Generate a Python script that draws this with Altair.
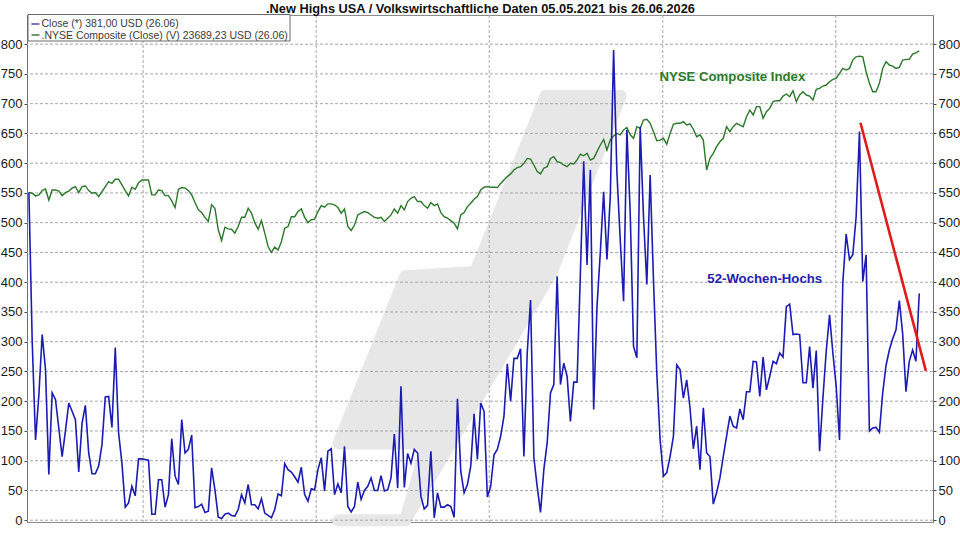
import altair as alt
import pandas as pd

TITLE = ".New Highs USA / Volkswirtschaftliche Daten 05.05.2021 bis 26.06.2026"
START, END = "2021-05-05", "2026-06-26"

# 52-week highs (weekly)
new_highs = [
    551, 300, 135, 210, 312, 253, 77, 214, 203, 155, 107, 150, 197, 183, 169, 81, 163, 193, 113, 78,
    78, 91, 127, 207, 208, 156, 290, 147, 96, 22, 29, 57, 41, 103, 103, 102, 101, 10, 10, 68,
    68, 22, 43, 137, 74, 60, 169, 113, 119, 143, 21, 23, 27, 13, 15, 88, 51, 5, 3, 10,
    12, 8, 7, 18, 43, 29, 60, 26, 26, 19, 36, 12, 8, 4, 18, 44, 41, 95, 85, 81,
    73, 64, 89, 43, 32, 53, 51, 85, 105, 49, 116, 120, 43, 61, 46, 124, 23,
    14, 23, 64, 35, 50, 57, 71, 50, 50, 75, 49, 51, 71, 145, 54, 225, 55, 112, 96, 119,
    113, 40, 19, 25, 116, 4, 46, 22, 22, 26, 23, 5, 204, 82, 46, 60, 91, 179, 102, 197,
    183, 39, 57, 110, 119, 141, 175, 263, 200, 272, 272, 288, 107, 281, 370, 105, 57, 13,
    85, 130, 214, 228, 410, 228, 264, 242, 166, 232, 232, 415, 603, 429, 589, 186, 359, 450, 552, 438,
    544, 790, 583, 471, 368, 656, 516, 292, 273, 661, 510, 396, 580, 404, 247, 135, 74, 80,
    107, 141, 261, 253, 205, 236, 189, 120, 158, 85, 189, 113, 107, 27, 46, 71, 107, 141, 175, 158,
    155, 187, 169, 216, 216, 267, 266, 208, 274, 219, 242, 267, 263, 281, 274, 359, 363, 312, 313, 312,
    231, 231, 292, 222, 285, 116, 205, 284, 345, 281, 225, 135,
    400, 481, 438, 446, 510, 653, 401, 446, 150, 155, 156, 148, 214, 260, 286, 305, 320, 369, 314, 216,
    267, 286, 267, 381,
]

# NYSE Composite (scaled onto the same axis, as drawn)
nyse = [
    551, 549.5, 545, 546.7, 554, 556.7, 538, 555, 555, 553, 545.5, 550.5, 553, 558, 560.6, 550.5, 560.6, 561.7, 554, 549.5,
    550.5, 543.8, 552, 560.6, 569, 566, 573, 573, 563.5, 554, 545, 559.6, 556, 567, 571.8, 571.8, 571.8, 546.7, 546.7, 555,
    554, 545.5, 545.5, 536.6, 525.4, 556, 559, 558, 554, 546.7, 533.8, 521.5, 517, 509, 502, 530, 524, 488,
    470, 492.4, 489.6, 489, 482.4, 493.5, 509, 509, 524.3, 516, 500, 489, 503.5, 482.4, 460, 450, 459, 454, 468, 490.7,
    493.5, 510, 510, 518.7, 523, 509, 500, 505, 506, 518.7, 528.7, 526, 531.6, 531.6, 530, 525.4, 516, 523, 493.5,
    486.8, 496, 513, 516, 518.7, 517, 513, 509, 507.5, 509, 502, 507.5, 513, 523, 516, 528.7, 521.5, 535.5, 541, 543.8,
    535.5, 535.5, 528.7, 524.3, 533.8, 528.7, 531.6, 517, 510, 507.5, 503.5, 499, 489.6, 513, 517, 527, 532.7, 539.4, 543.8, 555,
    559.5, 560.6, 559.5, 559.5, 559, 566, 571.8, 577.4, 582, 588.6, 592.5, 594, 599.8, 608, 607, 597, 585.8, 582, 591.5, 594,
    608, 611, 602.6, 601, 597, 594, 599.8, 598.7, 605.4, 615, 612.4, 616.6, 605.4, 608, 619.4, 630.6, 640, 622, 639, 645.7,
    650, 647.7, 655.8, 660, 647.7, 641.8, 661.3, 658.6, 672.5, 673.6, 667, 653, 637.8,
    638.8, 641.8, 631.7, 650, 665.3, 667, 667, 669.7, 664.1, 666, 657, 644.5, 647.7, 638.8, 588.6, 608, 616.6, 627.7, 636, 641.8,
    661.3, 653, 661.3, 667, 664.1, 661.3, 678, 689.3, 681, 695, 695, 675.4, 686.5, 692, 703.3, 705, 705, 712.8, 716.2, 711.7,
    721.7, 703.3, 714.5, 720, 714.5, 712.8, 706, 724, 725.7, 729.6, 731.3, 736.8, 740.8, 742.5, 750.9, 759.3, 756.5, 759.3, 773.3, 778.8,
    779.9, 778.8, 753.6, 734.1, 720, 720, 734.1, 759.3, 770.4, 764.9, 763.2, 759.3, 761, 773.3, 774.4, 774.4, 783.3, 785.5, 788.9,
]

years = [2022, 2023, 2024, 2025, 2026]
y_ticks = list(range(0, 801, 50))

trend_dates = ["2026-02-22", "2026-07-10"]
trend_values = [668, 251]

note_texts = ["NYSE Composite Index", "52-Wochen-Hochs"]
note_dates = ["2024-12-25", "2025-04-05"]
note_values = [745, 406]
note_colors = ["#2a7a2a", "#2323b0"]

legend_texts = ["Close (*) 381,00 USD (26.06)",
                ".NYSE Composite (Close) (V) 23689,23 USD (26.06)"]

# decorative background logo (two slanted bars), in data units
logo_part = ["upper", "upper", "lower", "lower"]
logo_value = [713, 417, 410, 129]
logo_left = ["2024-04-29", "2023-12-03", "2023-07-08", "2023-02-17"]
logo_right = ["2024-10-04", "2024-05-12", "2024-01-10", "2023-08-05"]

BLUE = "#1c1cb2"
GREEN = "#2b782b"
RED = "#e01b1b"
FONT = "Liberation Sans"

dates = pd.date_range(START, END, periods=len(new_highs))
df = pd.DataFrame({
    "date": [d.strftime("%Y-%m-%dT%H:%M:%SZ") for d in dates],
    "highs": new_highs,
    "nyse": nyse,
})

X = alt.Scale(type="utc", domain=[alt.DateTime(year=2021, month=5, date=1, utc=True),
                                  alt.DateTime(year=2026, month=7, date=25, utc=True)])
Y = alt.Scale(domain=[-3, 849], nice=False, zero=False)

x_axis = alt.Axis(values=[alt.DateTime(year=y, month=1, date=1, utc=True) for y in years],
                  format="%Y", labelAlign="left", labelBaseline="top", tickSize=3, labelPadding=2,
                  domainColor="#6f6f6f", tickColor="#6f6f6f", labelFont=FONT, labelFontSize=13,
                  labelColor="#1a1a1a", title=None, grid=False, labelFlush=False, labelOverlap=False)


def y_axis(orient):
    return alt.Axis(values=y_ticks, format="d", orient=orient, tickSize=3, labelPadding=2,
                    domainColor="#6f6f6f", tickColor="#4a4a4a", labelFont=FONT, labelFontSize=13,
                    labelColor="#1a1a1a", title=None, grid=False, labelFlush=False, labelOverlap=False)


one = pd.DataFrame({"k": [0]})

logo = alt.Chart(pd.DataFrame({"part": logo_part, "value": logo_value,
                               "left": logo_left, "right": logo_right})).mark_area(
    orient="horizontal", fill="#e7e7e7", stroke="#e7e7e7", strokeWidth=12, strokeJoin="round"
).encode(
    y=alt.Y("value:Q", scale=Y, axis=None),
    x=alt.X("left:T", scale=X, axis=None),
    x2="right:T",
    detail="part:N",
)

grid_h = alt.Chart(pd.DataFrame({"v": y_ticks})).mark_rule(
    color="#a8a8a8", strokeDash=[3, 2], strokeWidth=1
).encode(y=alt.Y("v:Q", scale=Y, axis=None))

grid_v = alt.Chart(pd.DataFrame({"d": [f"{y}-01-01" for y in years]})).mark_rule(
    color="#a8a8a8", strokeDash=[3, 2], strokeWidth=1
).encode(x=alt.X("d:T", scale=X, axis=None))

green = alt.Chart(df).mark_line(color=GREEN, strokeWidth=1.4).encode(
    x=alt.X("date:T", scale=X, axis=None),
    y=alt.Y("nyse:Q", scale=Y, axis=y_axis("right")),
)

blue = alt.Chart(df).mark_line(color=BLUE, strokeWidth=1.6).encode(
    x=alt.X("date:T", scale=X, axis=x_axis),
    y=alt.Y("highs:Q", scale=Y, axis=y_axis("left")),
)

red = alt.Chart(pd.DataFrame({"d": trend_dates, "v": trend_values})).mark_line(
    color=RED, strokeWidth=2.6
).encode(x=alt.X("d:T", scale=X, axis=None), y=alt.Y("v:Q", scale=Y, axis=None))

notes = alt.Chart(pd.DataFrame({"t": note_texts, "d": note_dates, "v": note_values,
                                "c": note_colors})).mark_text(
    align="left", baseline="middle", font=FONT, fontWeight="bold", fontSize=13.2
).encode(
    x=alt.X("d:T", scale=X, axis=None),
    y=alt.Y("v:Q", scale=Y, axis=None),
    text="t:N",
    color=alt.Color("c:N", scale=None),
)

legend_box = alt.Chart(one).mark_rect(fill="white", stroke="#6b6b6b", strokeWidth=1).encode(
    x=alt.value(1), x2=alt.value(263), y=alt.value(-0.5), y2=alt.value(26)
)
leg_line1 = alt.Chart(one).mark_rule(color="#4b4bb0", strokeWidth=1.5).encode(
    x=alt.value(4.5), x2=alt.value(12.5), y=alt.value(9)
)
leg_line2 = alt.Chart(one).mark_rule(color="#3c7a3c", strokeWidth=1.5).encode(
    x=alt.value(4.5), x2=alt.value(12.5), y=alt.value(20)
)
leg_text1 = alt.Chart(one).mark_text(
    text=legend_texts[0], align="left", baseline="middle", font=FONT, fontSize=10.5, color="#3a3a3a"
).encode(x=alt.value(14.5), y=alt.value(9))
leg_text2 = alt.Chart(one).mark_text(
    text=legend_texts[1], align="left", baseline="middle", font=FONT, fontSize=10.5, color="#3a3a3a"
).encode(x=alt.value(14.5), y=alt.value(20.5))

title = alt.Chart(one).mark_text(
    text=TITLE, align="center", baseline="alphabetic", font=FONT, fontWeight="bold",
    fontSize=12.8, color="#111111"
).encode(x=alt.value(453.5), y=alt.value(-2.5))

chart = alt.layer(
    logo, grid_h, grid_v, green, blue, red, notes,
    legend_box, leg_line1, leg_line2, leg_text1, leg_text2, title
).resolve_axis(y="independent").properties(
    width=906, height=507,
    autosize=alt.AutoSizeParams(type="none"),
    padding={"left": 27, "top": 15, "right": 27, "bottom": 18},
    background="white",
).configure_view(stroke="#8a8a8a", strokeWidth=1)

chart.save("out.html", embed_options={"renderer": "svg", "actions": False})
